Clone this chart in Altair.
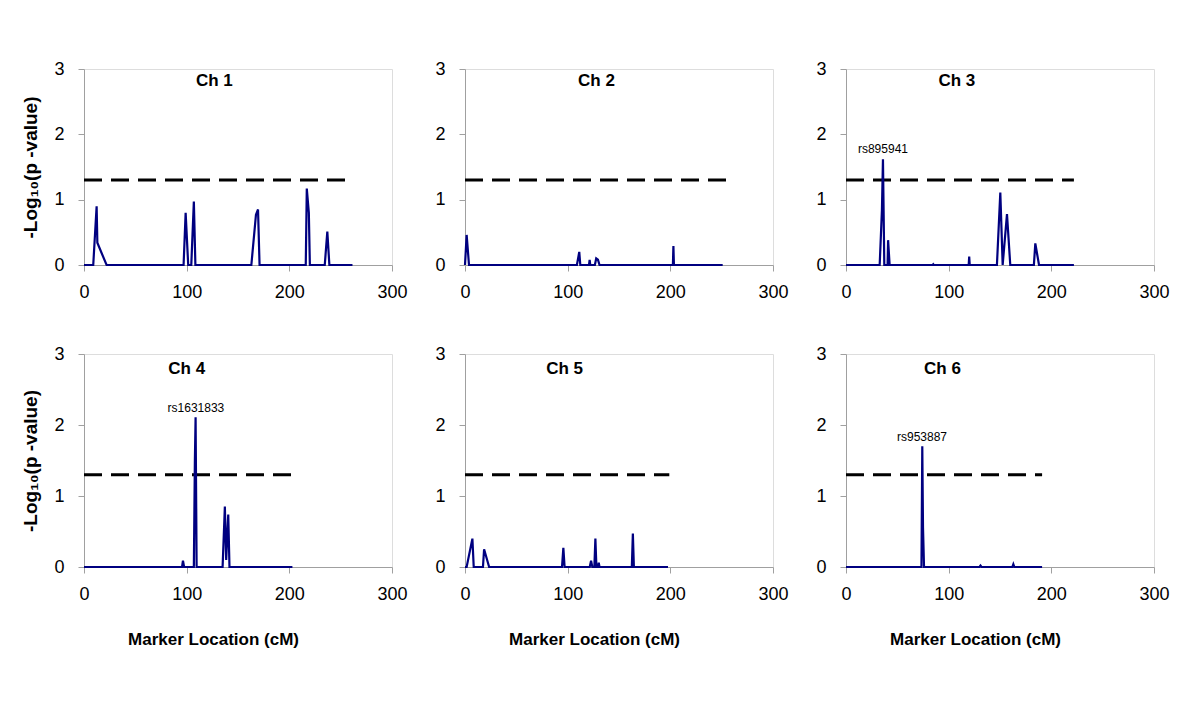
import altair as alt
import pandas as pd

# ---------------- data ----------------
ch1_x = [0, 9, 12.3, 13, 22, 97, 99, 101.5, 104.5, 107, 108.5, 163, 167.5, 169.5, 171, 216, 217, 219, 220, 234.5, 237, 239, 261.5]
ch1_y = [0, 0, 0.90, 0.34, 0, 0, 0.80, 0, 0, 0.97, 0, 0, 0.77, 0.85, 0, 0, 1.17, 0.80, 0, 0, 0.51, 0, 0]

ch2_x = [0, 1.6, 3.9, 109, 111.3, 112.3, 120.8, 121.4, 122, 126.5, 127.8, 129.5, 131, 202.5, 203, 203.5, 251]
ch2_y = [0, 0.46, 0, 0, 0.20, 0, 0, 0.08, 0, 0, 0.10, 0.08, 0, 0, 0.29, 0, 0]

ch3_x = [0, 32.8, 35, 36, 37.3, 40.5, 41, 42.5, 84.5, 85, 85.5, 119.5, 120, 120.5, 147, 150.3, 152.6, 156.8, 160, 183, 184.4, 188, 222]
ch3_y = [0, 0, 0.84, 1.62, 0, 0, 0.38, 0, 0, 0.01, 0, 0, 0.13, 0, 0, 1.11, 0, 0.78, 0, 0, 0.33, 0, 0]

ch4_x = [0, 95.5, 96.4, 97.5, 107, 108, 108.7, 109.7, 135, 137.2, 138.5, 140.5, 141.7, 203]
ch4_y = [0, 0, 0.09, 0, 0, 1.50, 2.11, 0, 0, 0.85, 0.10, 0.74, 0, 0]

ch5_x = [0, 1.6, 7.2, 8.5, 17.5, 18.6, 23.5, 94.5, 95.8, 97, 121.5, 122.8, 124, 126, 127, 128, 129.5, 130.3, 131, 162.5, 163.5, 164.5, 197.7]
ch5_y = [0, 0, 0.40, 0, 0, 0.25, 0, 0, 0.27, 0, 0, 0.09, 0, 0, 0.40, 0, 0, 0.06, 0, 0, 0.47, 0, 0]

ch6_x = [0, 73.5, 74.3, 75, 76, 130, 131, 132, 162, 163, 164, 191]
ch6_y = [0, 0, 1.70, 0.56, 0, 0, 0.02, 0, 0, 0.04, 0, 0]

panel_titles = ["Ch 1", "Ch 2", "Ch 3", "Ch 4", "Ch 5", "Ch 6"]
title_x = [127, 128, 108, 100, 97, 94]
title_y = [2.82, 2.82, 2.82, 2.79, 2.79, 2.79]

threshold = 1.3
threshold_end = [261, 262, 222, 205, 199, 191]

snp_labels = ["", "", "rs895941", "rs1631833", "", "rs953887"]
snp_x = [0, 0, 36, 109, 0, 74]
snp_y = [0, 0, 1.78, 2.24, 0, 1.83]

x_ticks = [0, 100, 200, 300]
y_ticks = [0, 1, 2, 3]

series_x = [ch1_x, ch2_x, ch3_x, ch4_x, ch5_x, ch6_x]
series_y = [ch1_y, ch2_y, ch3_y, ch4_y, ch5_y, ch6_y]

FONT = "Liberation Sans"
AX = "#a0a0a0"


def panel(i, w, h, left, bottom):
    df = pd.DataFrame({"x": series_x[i], "y": series_y[i]})
    xaxis = alt.Axis(values=x_ticks, format="d", grid=False, domainColor=AX, tickColor=AX, tickSize=6,
                     labelFont=FONT, labelFontSize=18, labelColor="black", labelPadding=12,
                     labelFlush=False,
                     title="Marker Location (cM)" if bottom else None,
                     titleFont=FONT, titleFontSize=17, titleFontWeight="bold", titleColor="black",
                     titlePadding=28, titleX=129, titleAlign="center")
    yaxis = alt.Axis(values=y_ticks, format="d", grid=False, domainColor=AX, tickColor=AX, tickSize=6,
                     labelFont=FONT, labelFontSize=18, labelColor="black", labelPadding=14,
                     labelFlush=False,
                     title="-Log\u2081\u2080(p -value)" if left else None,
                     titleFont=FONT, titleFontSize=19, titleFontWeight="bold", titleColor="black",
                     titlePadding=13)
    xs = alt.Scale(domain=[0, 300], nice=False, zero=False)
    ys = alt.Scale(domain=[0, 3], nice=False)

    base = alt.Chart(df).mark_line(color="#000080", strokeWidth=2.2, strokeJoin="miter").encode(
        x=alt.X("x:Q", scale=xs, axis=xaxis),
        y=alt.Y("y:Q", scale=ys, axis=yaxis),
    )
    thr = pd.DataFrame({"x0": [0], "x1": [threshold_end[i]], "y": [threshold]})
    rule = alt.Chart(thr).mark_rule(color="black", strokeWidth=3, strokeDash=[18, 9]).encode(
        x=alt.X("x0:Q", scale=xs), x2="x1:Q", y=alt.Y("y:Q", scale=ys))
    tdf = pd.DataFrame({"x": [title_x[i]], "y": [title_y[i]], "t": [panel_titles[i]]})
    ttl = alt.Chart(tdf).mark_text(font=FONT, fontSize=17, fontWeight="bold", color="black",
                                   align="center", baseline="middle").encode(
        x=alt.X("x:Q", scale=xs), y=alt.Y("y:Q", scale=ys), text="t:N")
    layers = [rule, base, ttl]
    if snp_labels[i]:
        sdf = pd.DataFrame({"x": [snp_x[i]], "y": [snp_y[i]], "t": [snp_labels[i]]})
        lab = alt.Chart(sdf).mark_text(font=FONT, fontSize=12, color="black",
                                       align="center", baseline="middle").encode(
            x=alt.X("x:Q", scale=xs), y=alt.Y("y:Q", scale=ys), text="t:N")
        layers.append(lab)
    return alt.layer(*layers).properties(width=w, height=h)


panels = [
    panel(0, 308, 196, True, False), panel(1, 308, 196, False, False), panel(2, 308, 196, False, False),
    panel(3, 308, 213, True, True), panel(4, 308, 213, False, True), panel(5, 308, 213, False, True),
]

chart = alt.concat(*panels, columns=3, spacing={"row": 89, "column": 73}, bounds="flush").properties(
    padding={"left": 13, "top": 51, "right": 5, "bottom": 5}
).configure_view(stroke=None).configure(background="white")

chart.save("out.html", embed_options={"renderer": "svg", "actions": False})
